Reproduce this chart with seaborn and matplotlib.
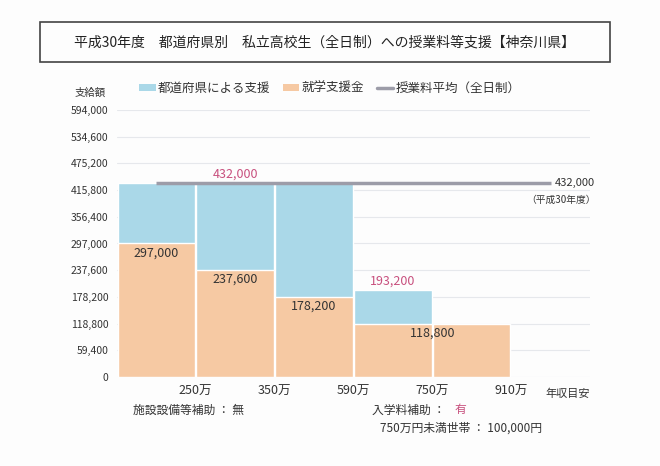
import matplotlib
matplotlib.use("Agg")
import matplotlib.pyplot as plt
import seaborn as sns
import pandas as pd
from matplotlib.patches import Patch, Rectangle
from matplotlib.lines import Line2D

# ---- data ----
income_bands = ["~250万", "250~350万", "350~590万", "590~750万", "750~910万"]
shugaku_shienkin = [297000, 237600, 178200, 118800, 118800]   # 就学支援金
pref_support = [135000, 194400, 253800, 74400, 0]            # 都道府県による支援
average_tuition = 432000
x_tick_labels = ["250万", "350万", "590万", "750万", "910万"]
y_ticks = [0, 59400, 118800, 178200, 237600, 297000, 356400, 415800, 475200, 534600, 594000]

totals = [a + b for a, b in zip(shugaku_shienkin, pref_support)]
df = pd.DataFrame({"band": income_bands, "bottom": shugaku_shienkin, "total": totals})

sns.set_theme(style="white")
plt.rcParams["font.family"] = ["Noto Sans CJK JP", "DejaVu Sans"]

BLUE = "#aad8e8"
ORANGE = "#f6c9a3"
PINK = "#c8507e"
GRAY = "#9c9ca8"
TXT = "#333333"

fig = plt.figure(figsize=(6.6, 4.66), dpi=100)
fig.patch.set_facecolor("#fdfdfd")
ax = fig.add_axes([0.177, 0.191, 0.717, 0.573])
ax.set_facecolor("#fdfdfd")

sns.barplot(data=df, x="band", y="total", color=BLUE, width=0.98, saturation=1,
            ax=ax, zorder=2)
sns.barplot(data=df, x="band", y="bottom", color=ORANGE, width=0.98, saturation=1,
            ax=ax, zorder=3)

ax.set_xlim(-0.5, 5.5)
ax.set_ylim(0, 594000)
ax.set_yticks(y_ticks)
ax.set_yticklabels([f"{v:,}" for v in y_ticks], fontsize=7.5, color=TXT)
ax.set_xticks([i + 0.5 for i in range(len(x_tick_labels))])
ax.set_xticklabels(x_tick_labels, fontsize=9, color=TXT)
ax.tick_params(axis="both", length=0, pad=6)
ax.set_xlabel("")
ax.set_ylabel("")
ax.grid(axis="y", color="#e6e8ec", linewidth=0.8, zorder=0)
ax.set_axisbelow(True)
for s in ax.spines.values():
    s.set_visible(False)

# average line
ax.hlines(average_tuition, 0.0, 5.0, color=GRAY, linewidth=2.5, zorder=4)
ax.text(5.05, average_tuition, f"{average_tuition:,}", fontsize=8, color=TXT,
        va="center", ha="left")
ax.text(5.57, average_tuition - 38000, "（平成30年度）", fontsize=7, color=TXT,
        va="center", ha="right")

# value labels
for i in range(3):
    ax.text(i, shugaku_shienkin[i] - 6000, f"{shugaku_shienkin[i]:,}", fontsize=9,
            color=TXT, ha="center", va="top", zorder=5)
ax.text(3.5, shugaku_shienkin[3] - 6000, f"{shugaku_shienkin[3]:,}", fontsize=9,
        color=TXT, ha="center", va="top", zorder=5)
ax.text(1, totals[1] + 4000, f"{totals[1]:,}", fontsize=9, color=PINK,
        ha="center", va="bottom", zorder=5)
ax.text(3, totals[3] + 6000, f"{totals[3]:,}", fontsize=9, color=PINK,
        ha="center", va="bottom", zorder=5)

# x axis caption
ax.text(5.22, -25000, "年収目安", fontsize=8, color=TXT, ha="center", va="top")

# title box
fig.patches.append(Rectangle((40 / 660, 1 - 62 / 466), 570 / 660, 40 / 466,
                             transform=fig.transFigure, fill=False,
                             edgecolor="#444444", linewidth=1.2))
fig.text(325 / 660, 1 - 43 / 466,
         "平成30年度　都道府県別　私立高校生（全日制）への授業料等支援【神奈川県】",
         fontsize=10, color="#222222", ha="center", va="center")

# legend
handles = [Patch(facecolor=BLUE, edgecolor="none"),
           Patch(facecolor=ORANGE, edgecolor="none"),
           Line2D([0], [0], color=GRAY, linewidth=2.5)]
labels = ["都道府県による支援", "就学支援金", "授業料平均（全日制）"]
fig.legend(handles, labels, loc="center left", bbox_to_anchor=(128 / 660, 1 - 88 / 466),
           ncol=3, frameon=False, fontsize=9, handlelength=1.3, handleheight=0.5,
           handletextpad=0.2, columnspacing=1.0, labelcolor=TXT)
fig.text(90 / 660, 1 - 93 / 466, "支給額", fontsize=7.5, color=TXT, ha="center", va="center")

# bottom notes
fig.text(133 / 660, 1 - 410 / 466, "施設設備等補助 ： 無", fontsize=8.5, color=TXT,
         ha="left", va="center")
fig.text(372 / 660, 1 - 410 / 466, "入学料補助 ： ", fontsize=8.5, color=TXT,
         ha="left", va="center")
fig.text(455 / 660, 1 - 410 / 466, "有", fontsize=8.5, color=PINK, ha="left", va="center")
fig.text(380 / 660, 1 - 428 / 466, "750万円未満世帯 ： 100,000円", fontsize=8.5, color=TXT,
         ha="left", va="center")

fig.savefig("out.png", dpi=100, facecolor=fig.get_facecolor())
